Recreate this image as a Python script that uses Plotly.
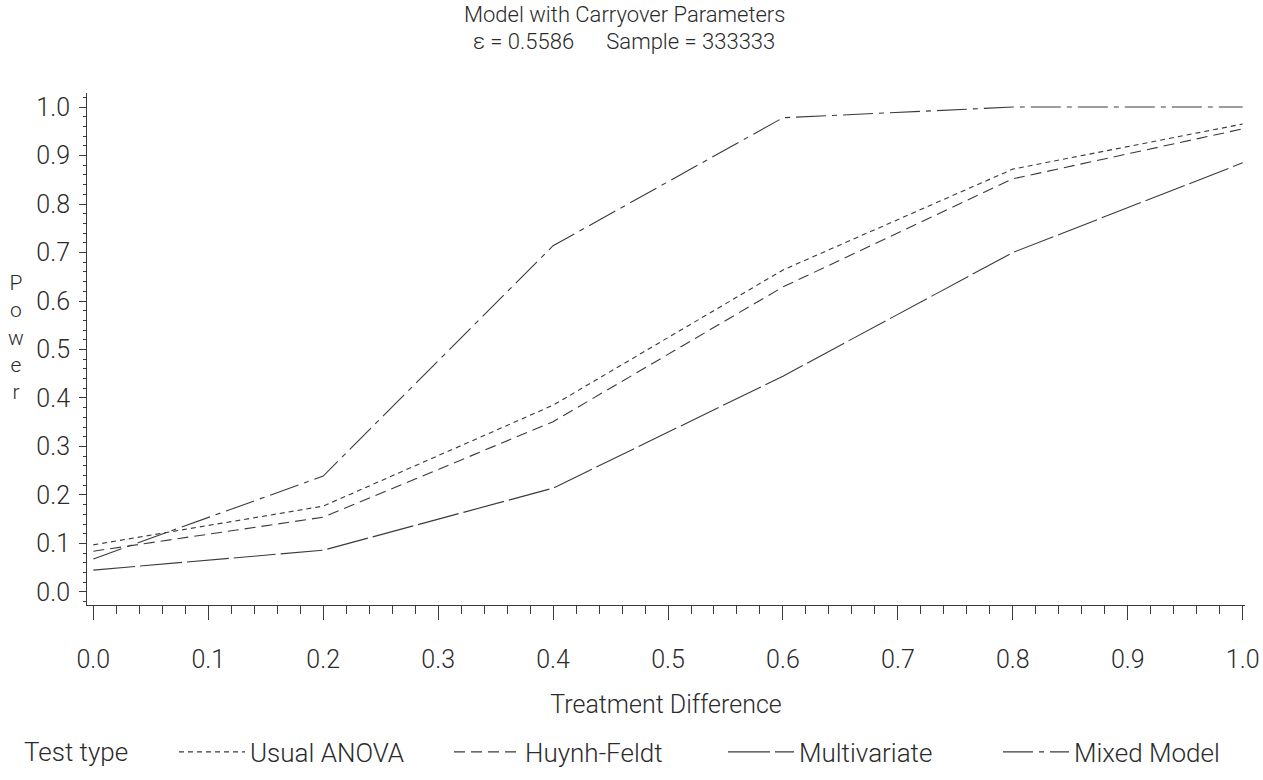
import plotly.graph_objects as go

# Treatment difference (x) and power of each test (y)
treatment_diff = [0.0, 0.2, 0.4, 0.6, 0.8, 1.0]
usual_anova = [0.097, 0.177, 0.385, 0.664, 0.872, 0.965]
huynh_feldt = [0.084, 0.154, 0.351, 0.629, 0.852, 0.955]
multivariate = [0.045, 0.086, 0.214, 0.445, 0.700, 0.885]
mixed_model = [0.068, 0.239, 0.714, 0.978, 1.000, 1.000]

series_names = ["Usual ANOVA", "Huynh-Feldt", "Multivariate", "Mixed Model"]
tick_vals = [0.0, 0.1, 0.2, 0.3, 0.4, 0.5, 0.6, 0.7, 0.8, 0.9, 1.0]
tick_text = ["0.0", "0.1", "0.2", "0.3", "0.4", "0.5", "0.6", "0.7", "0.8", "0.9", "1.0"]

W, H = 1263, 780
ML, MR, MT, MB = 87, 18, 93, 175
PW, PH = W - ML - MR, H - MT - MB
FONT = "Roboto, Liberation Sans, sans-serif"
INK = "#2b2b2b"
LINE = "#3a3a3a"


def font(size):
    return dict(family=FONT, size=size, color=INK, weight=300)


def px_x(px):
    return (px - ML) / PW


def px_y(py):
    return (H - MB - py) / PH


dashes = ["5px,4px", "11px,6px", "42px,5px", "30px,6px,5px,6px"]
legend_left = [174, 449, 723, 998]   # left edge (px) of each legend entry
values = [usual_anova, huynh_feldt, multivariate, mixed_model]

fig = go.Figure()
for i, (name, ys) in enumerate(zip(series_names, values)):
    key = "legend" if i == 0 else f"legend{i + 1}"
    fig.add_trace(go.Scatter(
        x=treatment_diff, y=ys, name=name, mode="lines",
        line=dict(color=LINE, width=1.1, dash=dashes[i]),
        legend=key,
    ))

legend_y = 1 - 752 / H
for i in range(4):
    key = "legend" if i == 0 else f"legend{i + 1}"
    fig.update_layout({key: dict(
        x=legend_left[i] / W, xref="container", xanchor="left",
        y=legend_y, yref="container", yanchor="middle",
        orientation="h", itemwidth=66, bgcolor="rgba(0,0,0,0)",
        borderwidth=0, font=font(26),
    )})

axis_common = dict(
    showline=True, linecolor=LINE, linewidth=1, showgrid=False, zeroline=False,
    ticks="outside", tickcolor=LINE, tickwidth=1,
    tickfont=font(25),
    tickmode="array", tickvals=tick_vals, ticktext=tick_text,
    mirror=False, automargin=False,
)

fig.update_xaxes(
    **axis_common, range=[-0.0055, 1.002], ticklen=14,
    ticklabelstandoff=18,
    minor=dict(tick0=0, dtick=0.02, ticks="outside", ticklen=8,
               tickcolor=LINE, tickwidth=1),
    title=dict(text="Treatment Difference", standoff=22, font=font(25)),
)
fig.update_yaxes(
    **axis_common, range=[-0.027, 1.029], ticklen=7,
    ticklabelstandoff=4,
    minor=dict(tick0=0, dtick=0.02, ticks="outside", ticklen=3,
               tickcolor=LINE, tickwidth=1),
)

annotations = [
    dict(text="Model with Carryover Parameters", x=px_x(624), y=px_y(14),
         xanchor="center", yanchor="middle", font=font(22)),
    dict(text="\u03b5 = 0.5586\u00a0\u00a0\u00a0\u00a0\u00a0\u00a0Sample = 333333",
         x=px_x(624), y=px_y(41), xanchor="center", yanchor="middle", font=font(22)),
    dict(text="P<br>o<br>w<br>e<br>r", x=px_x(16), y=px_y(337),
         xanchor="center", yanchor="middle", font=font(21)),
    dict(text="Test type", x=px_x(22), y=px_y(752),
         xanchor="left", yanchor="middle", font=font(26)),
]
for a in annotations:
    a.update(xref="paper", yref="paper", showarrow=False)

fig.update_layout(
    width=W, height=H,
    margin=dict(l=ML, r=MR, t=MT, b=MB, autoexpand=False),
    paper_bgcolor="white", plot_bgcolor="white",
    annotations=annotations,
    showlegend=True,
)

fig.write_html("out.html")
